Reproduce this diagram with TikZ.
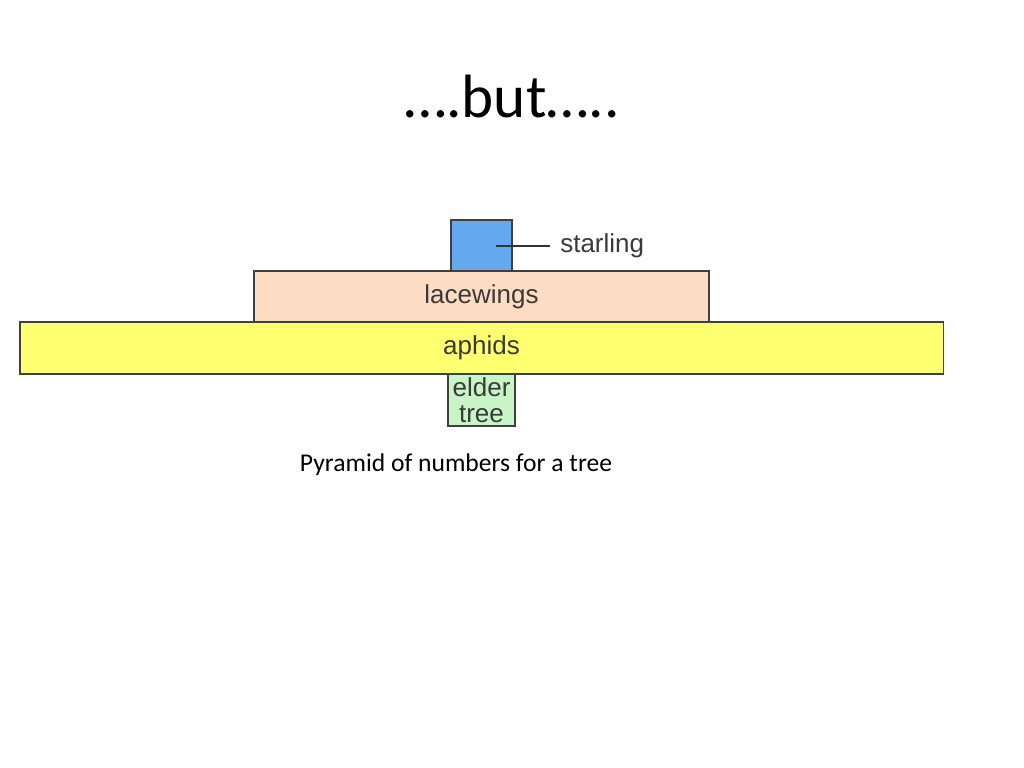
\documentclass[tikz,border=0pt]{standalone}
\usepackage{fontspec}
\setmainfont{Carlito}
\newfontfamily\labelfont{Liberation Sans}
\usetikzlibrary{positioning}

\definecolor{starlingblue}{HTML}{64A8F0}
\definecolor{lacepeach}{HTML}{FCDCC2}
\definecolor{aphidyellow}{HTML}{FFFF70}
\definecolor{treegreen}{HTML}{C8F5C6}
\definecolor{labelgray}{HTML}{3A3A3A}

\begin{document}
\begin{tikzpicture}[
  x=0.025cm, y=-0.025cm,
  layer/.style={draw=black!75, line width=0.9pt, outer sep=0pt, inner sep=0pt,
    font=\labelfont\fontsize{18.5}{18.5}\selectfont, text=labelgray, align=center}
]
\useasboundingbox[fill=white] (0,0) rectangle (1024,768);

% title
\node[font=\fontsize{43.5}{50}\selectfont] (title) at (512,97) {….but…..};

% pyramid levels, stacked on the aphids bar
\node[layer, fill=aphidyellow, minimum width=23.075cm, minimum height=1.3cm] (aphids) at (481.5,348) {aphids};
\node[layer, fill=lacepeach, minimum width=11.375cm, minimum height=1.275cm, above=0pt of aphids] (lacewings) {lacewings};
\node[layer, fill=starlingblue, minimum width=1.525cm, minimum height=1.275cm, above=0pt of lacewings] (starling) {};
\node[layer, fill=treegreen, minimum width=1.675cm, minimum height=1.3cm, below=0pt of aphids] (elder) {elder\\tree};

% starling label with pointer line
\node[font=\labelfont\fontsize{18.5}{20}\selectfont, text=labelgray, anchor=west, inner sep=0pt] (starlinglabel) at (560,246) {starling};
\coordinate (pointer) at (496,246);
\draw[black!80, line width=1pt] (pointer) -- ([xshift=-7pt]starlinglabel.west);

% caption
\node[font=\fontsize{18.2}{22}\selectfont] (caption) at (456,465) {Pyramid of numbers for a tree};
\end{tikzpicture}
\end{document}
